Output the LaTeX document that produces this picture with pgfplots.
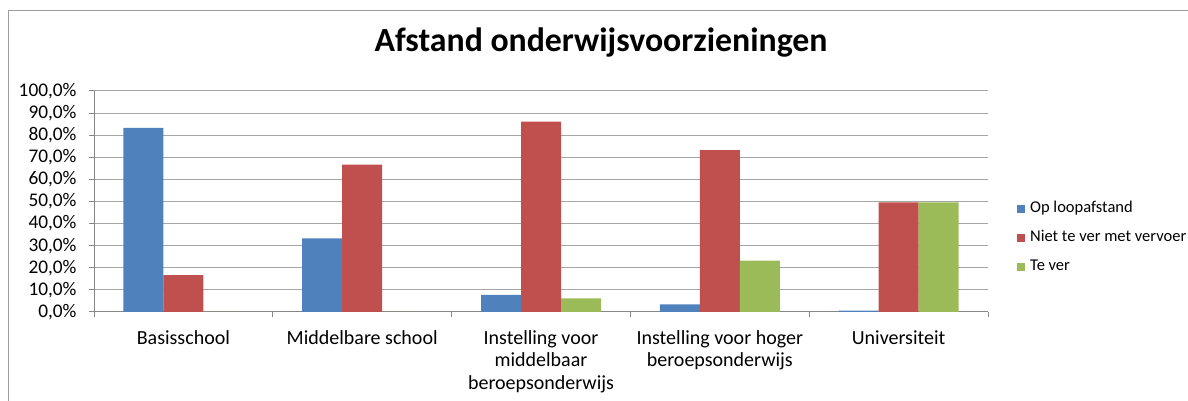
\documentclass[border=0pt]{standalone}
\usepackage{pgfplots}
\pgfplotsset{compat=1.18}
\usepackage{fontspec}
\setmainfont{Carlito}
\definecolor{cblue}{HTML}{4F81BD}
\definecolor{cred}{HTML}{C0504D}
\definecolor{cgreen}{HTML}{9BBB59}
\definecolor{gridgray}{HTML}{A6A6A6}
\definecolor{axisgray}{HTML}{868686}
\definecolor{framegray}{HTML}{9C9C9C}
\begin{document}
\begin{tikzpicture}[x=1pt,y=1pt]
\useasboundingbox (0,0) rectangle (1188,401);
\draw[framegray, line width=1pt] (8,-10) -- (8,390) -- (1200,390);
\node[font=\bfseries\fontsize{33.8}{38}\selectfont, anchor=base] at (601,349) {Afstand onderwijsvoorzieningen};
\begin{axis}[
  at={(94pt,89pt)}, anchor=south west,
  scale only axis, width=894pt, height=221pt,
  ybar=0pt, bar width=40pt,
  xmin=-0.5, xmax=4.5, ymin=0, ymax=100,
  axis x line*=bottom, axis y line*=left,
  xtick={0,1,2,3,4},
  xticklabels={{Basisschool},{Middelbare school},{Instelling voor\\middelbaar\\beroepsonderwijs},{Instelling voor hoger\\beroepsonderwijs},{Universiteit}},
  xticklabel style={align=center, font=\fontsize{20}{22.3}\selectfont, yshift=-10pt},
  major x tick style={draw=none},
  minor xtick={-0.5,0.5,1.5,2.5,3.5,4.5},
  ytick={0,10,...,100},
  yticklabels={{0,0\%},{10,0\%},{20,0\%},{30,0\%},{40,0\%},{50,0\%},{60,0\%},{70,0\%},{80,0\%},{90,0\%},{100,0\%}},
  yticklabel style={font=\fontsize{19.3}{22}\selectfont, xshift=-9pt},
  ymajorgrids,
  grid style={gridgray, line width=1pt},
  axis line style={axisgray, line width=1pt},
  tick style={axisgray, line width=1pt},
  tick align=outside,
  major tick length=5pt, minor tick length=5pt,
  legend style={at={(1.0324,0.335)}, anchor=west, draw=none, fill=none, inner sep=0pt,
    font=\fontsize{16.5}{19}\selectfont, row sep=11pt,
    nodes={inner sep=1pt, text height=12pt, text depth=4pt},
    /tikz/every odd column/.append style={column sep=4pt}},
  legend cell align=left,
  legsq/.style={legend image code/.code={\fill[##1, draw=none] (0pt,-4pt) rectangle (8pt,4pt);}},
]
\addplot[fill=cblue, draw=none, legsq] coordinates {(0,83.3) (1,33.3) (2,7.7) (3,3.5) (4,0.6)};
\addplot[fill=cred, draw=none, legsq] coordinates {(0,16.7) (1,66.7) (2,86.1) (3,73.3) (4,49.6)};
\addplot[fill=cgreen, draw=none, legsq] coordinates {(0,0) (1,0) (2,6.2) (3,23.2) (4,49.6)};
\legend{Op loopafstand, Niet te ver met vervoer, Te ver}
\end{axis}
\end{tikzpicture}
\end{document}
